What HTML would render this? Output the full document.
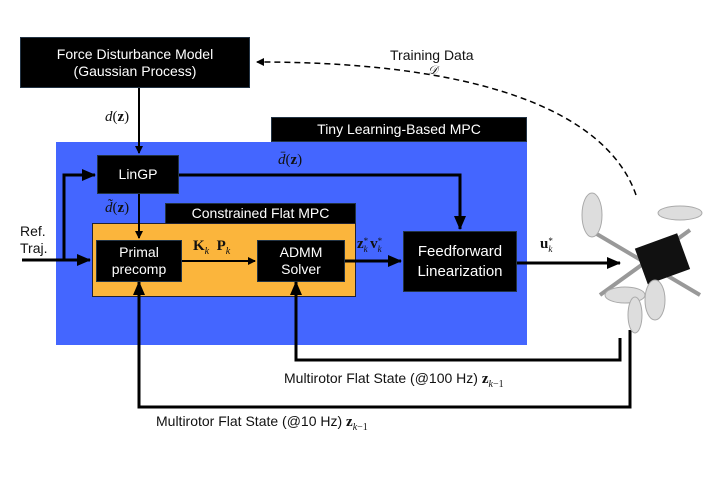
<html><head><style>
body{margin:0;width:718px;height:484px;background:#fff;position:relative;overflow:hidden;font-family:"Liberation Sans",sans-serif}
.b{position:absolute;background:#000;color:#fff;display:flex;align-items:center;justify-content:center;text-align:center;font-size:14px;line-height:17px;box-sizing:border-box;border:1px solid #234}
.t{position:absolute;font-size:14px;color:#111;white-space:nowrap}
.m{font-family:"Liberation Serif",serif;font-size:15px}
.ss{display:inline-flex;flex-direction:column;font-size:9px;line-height:8px;vertical-align:middle;margin-right:2px}
</style></head><body>
<div style="position:absolute;left:56px;top:142px;width:471px;height:203px;background:#4466ff"></div>
<div class="b" style="left:271px;top:117px;width:256px;height:25px">Tiny Learning-Based MPC</div>
<div class="b" style="left:20px;top:37px;width:230px;height:51px">Force Disturbance Model<br>(Gaussian Process)</div>
<div class="b" style="left:97px;top:155px;width:82px;height:39px">LinGP</div>
<div class="b" style="left:165px;top:203px;width:191px;height:21px">Constrained Flat MPC</div>
<div style="position:absolute;left:92px;top:223px;width:264px;height:74px;background:#fbb53c;border:1px solid #223;box-sizing:border-box"></div>
<div class="b" style="left:96px;top:240px;width:86px;height:42px">Primal<br>precomp</div>
<div class="b" style="left:257px;top:240px;width:88px;height:42px">ADMM<br>Solver</div>
<div class="b" style="left:403px;top:231px;width:114px;height:61px;font-size:15px;line-height:20px">Feedforward<br>Linearization</div>
<svg width="718" height="484" style="position:absolute;left:0;top:0">
<defs><marker id="a" markerWidth="8" markerHeight="8" refX="7" refY="4" orient="auto" markerUnits="userSpaceOnUse"><path d="M0,0L8,4L0,8z"/></marker>
<marker id="s" markerWidth="14" markerHeight="12" refX="13" refY="6" orient="auto" markerUnits="userSpaceOnUse"><path d="M0,0L14,6L0,12z"/></marker></defs>
<g stroke="#000" fill="none" stroke-width="3">
<path d="M139 88V153" stroke-width="2" marker-end="url(#a)"/>
<path d="M22 260H90" marker-end="url(#s)"/>
<path d="M64 260V175H95" marker-end="url(#s)"/>
<path d="M179 175H460V229" marker-end="url(#s)"/>
<path d="M139 194V238" stroke-width="2" marker-end="url(#a)"/>
<path d="M182 261H255" stroke-width="2" marker-end="url(#a)"/>
<path d="M345 261H401" marker-end="url(#s)"/>
<path d="M517 263H620" marker-end="url(#s)"/>
<path d="M630 330V407H139V282" marker-end="url(#s)"/>
<path d="M620 338V360H296V282" marker-end="url(#s)"/>
<path d="M636 195C610 120 500 62 257 62" stroke-width="1.5" stroke-dasharray="6,4" marker-end="url(#a)"/>
</g>
<g stroke="#999" stroke-width="4" fill="none"><path d="M590 230L700 295M600 295L690 230"/></g>
<rect x="640" y="240" width="45" height="38" fill="#111" transform="rotate(-20 662 259)"/>
<g fill="#ddd" stroke="#aaa"><ellipse cx="592" cy="215" rx="10" ry="22"/><ellipse cx="680" cy="213" rx="22" ry="7"/><ellipse cx="625" cy="295" rx="20" ry="8"/><ellipse cx="635" cy="315" rx="7" ry="18"/><ellipse cx="655" cy="300" rx="10" ry="20"/></g>
</svg>
<div class="t" style="left:390px;top:47px">Training Data</div>
<div class="t m" style="left:428px;top:63px;font-size:12px;font-style:italic">𝒟</div>
<div class="t m" style="left:105px;top:109px"><i>d</i>(<b>z</b>)</div>
<div class="t m" style="left:278px;top:152px"><i>d̄</i>(<b>z</b>)</div>
<div class="t m" style="left:105px;top:200px"><i>d̃</i>(<b>z</b>)</div>
<div class="t" style="left:20px;top:223px;line-height:17px">Ref.<br>Traj.</div>
<div class="t m" style="left:193px;top:238px"><b>K</b><sub style="font-size:10px"><i>k</i></sub> &nbsp;<b>P</b><sub style="font-size:10px"><i>k</i></sub></div>
<div class="t m" style="left:357px;top:236px"><b>z</b><span class="ss"><span>*</span><i>k</i></span><b>v</b><span class="ss"><span>*</span><i>k</i></span></div>
<div class="t m" style="left:540px;top:236px"><b>u</b><span class="ss"><span>*</span><i>k</i></span></div>
<div class="t" style="left:284px;top:370px">Multirotor Flat State (@100 Hz) <span class="m"><b>z</b><sub style="font-size:10px"><i>k</i>−1</sub></span></div>
<div class="t" style="left:156px;top:413px">Multirotor Flat State (@10 Hz) <span class="m"><b>z</b><sub style="font-size:10px"><i>k</i>−1</sub></span></div>
</body></html>
